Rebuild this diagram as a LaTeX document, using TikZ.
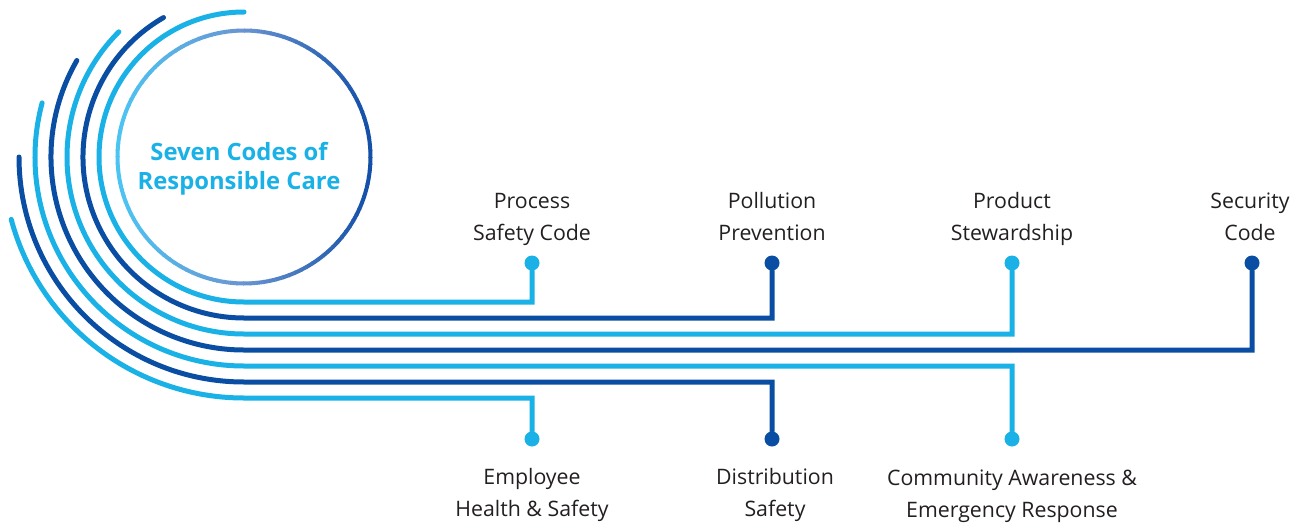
\documentclass[tikz,border=0pt]{standalone}
\usepackage{fontspec}
\setmainfont{Open Sans}
\usetikzlibrary{calc}
\definecolor{clight}{HTML}{1AB1E7}
\definecolor{cdark}{HTML}{0A4EA3}
\definecolor{gleft}{HTML}{4CC5F3}
\definecolor{gmid}{HTML}{6A95D2}
\definecolor{gright}{HTML}{1450A8}
\definecolor{ctext}{HTML}{231F20}
\begin{document}
\begin{tikzpicture}[x=1pt,y=-1pt,
  wireL/.style={draw=clight, line width=5pt, line cap=round},
  wireD/.style={draw=cdark, line width=5pt, line cap=round},
  dotL/.style={circle, fill=clight, minimum size=15pt, inner sep=0pt},
  dotD/.style={circle, fill=cdark, minimum size=15pt, inner sep=0pt},
  lab/.style={align=center, text=ctext, inner sep=0pt, font=\fontsize{21.3}{32}\selectfont},
  title/.style={align=center, text=clight, inner sep=0pt, font=\fontsize{23.8}{28.5}\selectfont\bfseries}
]
\useasboundingbox (0,0) rectangle (1298,522);
\coordinate (C) at (244,157);
% gradient circle
\foreach \a in {0,3,...,357}{
  \pgfmathtruncatemacro\p{50*(1-cos(\a+1.5))}
  \ifnum\p>50
    \pgfmathtruncatemacro\q{2*(\p-50)}
    \colorlet{cc}{gleft!\q!gmid}
  \else
    \pgfmathtruncatemacro\q{2*\p}
    \colorlet{cc}{gmid!\q!gright}
  \fi
  \draw[cc, line width=4pt] ($(C)+(\a:126.5)$) arc[start angle=\a, end angle=\a+3.4, radius=126.5];
}
\node[title] (title) at (239,169) {Seven Codes of\\Responsible Care};

% dots
\node[dotL] (d1) at (532,263) {};
\node[dotD] (d2) at (772,263) {};
\node[dotL] (d3) at (1012,263) {};
\node[dotD] (d4) at (1252,263) {};
\node[dotL] (d5) at (1012,439) {};
\node[dotD] (d6) at (772,439) {};
\node[dotL] (d7) at (532,439) {};

% arc starts
\coordinate (s1) at ($(C)+(-90:145)$);
\coordinate (s2) at ($(C)+(-120:161)$);
\coordinate (s3) at ($(C)+(-135:177)$);
\coordinate (s4) at ($(C)+(-150:193)$);
\coordinate (s5) at ($(C)+(-165:209)$);
\coordinate (s6) at ($(C)+(-180:225)$);
\coordinate (s7) at ($(C)+(-195:241)$);

\draw[wireL] (s1) arc[start angle=-90, end angle=-270, radius=145] -| (d1);
\draw[wireD] (s2) arc[start angle=-120, end angle=-270, radius=161] -| (d2);
\draw[wireL] (s3) arc[start angle=-135, end angle=-270, radius=177] -| (d3);
\draw[wireD] (s4) arc[start angle=-150, end angle=-270, radius=193] -| (d4);
\draw[wireL] (s5) arc[start angle=-165, end angle=-270, radius=209] -| (d5);
\draw[wireD] (s6) arc[start angle=-180, end angle=-270, radius=225] -| (d6);
\draw[wireL] (s7) arc[start angle=-195, end angle=-270, radius=241] -| (d7);

% labels (anchor=base is the baseline of the last line)
\node[lab, anchor=base] (l1) at (532,240) {Process\\Safety Code};
\node[lab, anchor=base] (l2) at (772,240) {Pollution\\Prevention};
\node[lab, anchor=base] (l3) at (1012,240) {Product\\Stewardship};
\node[lab, anchor=base] (l4) at (1250,240) {Security\\Code};
\node[lab, anchor=base] (l5) at (532,516) {Employee\\Health \& Safety};
\node[lab, anchor=base] (l6) at (775,516) {Distribution\\Safety};
\node[lab, anchor=base] (l7) at (1012,517) {Community Awareness \&\\Emergency Response};
\end{tikzpicture}
\end{document}
